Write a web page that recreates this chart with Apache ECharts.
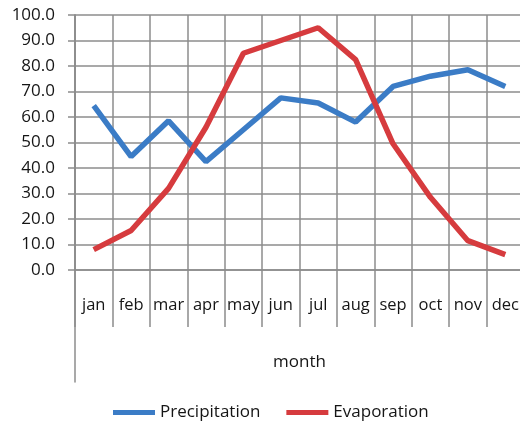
<!DOCTYPE html>
<html><head><meta charset="utf-8">
<script src="https://cdn.jsdelivr.net/npm/echarts@6/dist/echarts.min.js"></script>
<style>html,body{margin:0;padding:0;background:#fff;overflow:hidden;width:520px;height:423px}#c{width:540px;height:423px}</style>
</head><body><div id="c"></div>
<script>
const months = ['jan','feb','mar','apr','may','jun','jul','aug','sep','oct','nov','dec'];
const precipitation = [64.5, 44.5, 58.5, 42.5, 55.0, 67.5, 65.5, 58.0, 72.0, 76.0, 78.5, 72.0];
const evaporation = [8.0, 15.5, 32.0, 56.0, 85.0, 90.0, 95.0, 82.5, 49.5, 28.5, 11.5, 6.0];
const yTicks = {min: 0, max: 100, interval: 10};

const font = '"Open Sans", Lato, sans-serif';
const txt = '#151515';
const gridColor = '#8c8c8c';
const chart = echarts.init(document.getElementById('c'));
chart.setOption({
  animation: false,
  grid: [
    {left: 75, top: 15, width: 449, height: 255},
    {left: 75, top: 15, width: 449, height: 367}
  ],
  legend: {
    bottom: -3, left: 108, itemGap: 26, itemWidth: 42, itemHeight: 5, icon: 'rect',
    textStyle: {fontFamily: font, fontSize: 17, color: txt},
    data: ['Precipitation', 'Evaporation']
  },
  xAxis: [{
    gridIndex: 0, type: 'category', data: months, boundaryGap: true,
    name: 'month', nameLocation: 'middle', nameGap: 84,
    nameTextStyle: {fontFamily: font, fontSize: 17, color: txt},
    axisLine: {lineStyle: {color: gridColor, width: 1.5}},
    axisTick: {show: true, interval: 0, length: 57, lineStyle: {color: gridColor, width: 1.5}},
    axisLabel: {interval: 0, margin: 27, fontFamily: font, fontSize: 16.5, color: txt},
    splitLine: {show: true, interval: 0, lineStyle: {color: gridColor, width: 1.5}}
  }, {
    gridIndex: 1, type: 'category', data: months, show: false
  }],
  yAxis: [{
    gridIndex: 0, type: 'value', min: yTicks.min, max: yTicks.max, interval: yTicks.interval,
    axisLine: {show: true, lineStyle: {color: gridColor, width: 1.5}},
    axisTick: {show: true, length: 7, lineStyle: {color: gridColor, width: 1.5}},
    axisLabel: {margin: 20, fontFamily: font, fontSize: 17, color: txt, formatter: v => v.toFixed(1)},
    splitLine: {show: true, lineStyle: {color: gridColor, width: 1.5}}
  }, {
    gridIndex: 1, type: 'value', min: 0, max: 1,
    axisLine: {show: true, lineStyle: {color: gridColor, width: 1.5}},
    axisTick: {show: false}, axisLabel: {show: false}, splitLine: {show: false}
  }],
  series: [{
    name: 'Precipitation', type: 'line', data: precipitation, symbol: 'none',
    lineStyle: {color: '#3b7cc6', width: 5.5}, itemStyle: {color: '#3b7cc6'}
  }, {
    name: 'Evaporation', type: 'line', data: evaporation, symbol: 'none',
    lineStyle: {color: '#d63b3e', width: 5.5}, itemStyle: {color: '#d63b3e'}
  }]
});
</script></body></html>
